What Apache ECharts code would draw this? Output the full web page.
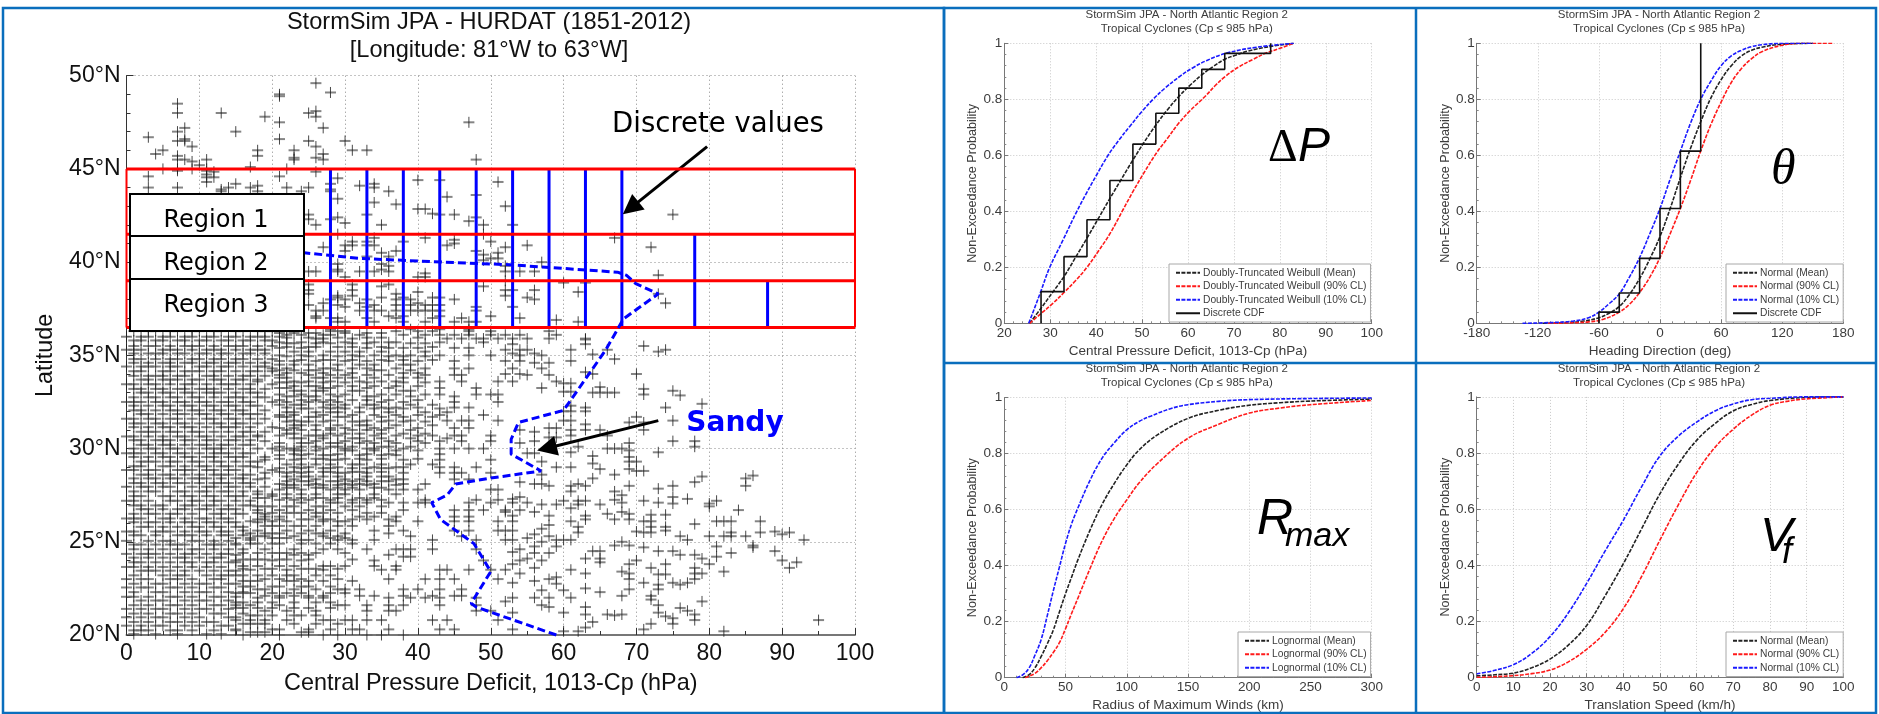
<!DOCTYPE html>
<html><head><meta charset="utf-8">
<style>html,body{margin:0;padding:0;background:#fff}#c{width:1879px;height:714px}</style>
<script src="https://cdn.jsdelivr.net/npm/echarts@6/dist/echarts.min.js"></script>
</head><body><div id="c"></div>
<script>
// ---------- Left panel: storm observations, [lat, deficit, deficit, ...] ----------
const obsNorth = [
[49.6,26],[49.1,28],[49,21],[48.9,21],[48.5,7],[48,7,13,25],[48.1,26],[47.8,19,26],[47.5,21,47],[47.2,8,27],[47,7,15],
[46.7,3],[46.6,8,21],[46.5,7,8,25,30],[46.2,9,26],[46,5,18,23,31,33],[45.8,4,27],[45.7,7,18],[45.6,23,26],[45.5,7,8,11,23,27,48],
[45.4,9],[45.2,10],[45.1,17],[45,5,7,9,11,22],[44.9,7,11],[44.85,12,26],[44.7,11],[44.6,3,21],[44.55,11,12],[44.5,29],[44.4,40,43],
[44.3,11,51],[44.2,15,28,34],[44.1,18,32],[44,3,7,14,17,22,25,34],[43.9,13,28],[43.8,13,18,24,28,36],[43.6,48],[43.5,44],[43.4,29],[43.2,34],[43.1,37],
[43,52],[42.85,40,41],[42.6,42],[42.55,25,33,43,45,75],[42.4,29,48],[42.3,25,28],[42.2,47],[42.1,30],[42,26,35,49,53],
[41.5,29,48,49],[41.3,34,41,67],[41.2,45],[41.1,31,33,38,50],[41,45],[40.9,30,31,33,34,44,55],[40.8,27,52,72],[40.6,30,37,48],[40.5,35,51],[40.4,49],
[40.3,33,36],[40.2,50,51],[40.1,49],[40,57],[39.9,29,35],[39.8,36,52],[39.6,29,35],[39.5,25,26,29,32,34,36,52,54,56],[39.4,41],[39.3,73],[39.2,30,40,41],
[39,38,52],[38.9,60,63],[38.8,25,31,36],[38.7,35,49],[38.5,25,31,52,53,56],[38.4,40,62],[38.3,25,37,73],[38.2,29,31,52],[38.1,29,35,38,42,43,55],
[38,28,30,33,37,39,45,56],[37.8,27,32,40,74],[37.7,25,29,34,37,39,41,42,43],[37.6,30,33,48,53],[37.4,26,27,32,34,35,37,39,40,41,42,43,48],
[37.1,26,36,38,43,50],[37,26,28,29,33,37,42,46,54],[36.9,59],[36.8,29,30,34,38,41,45,47,48,62]
];
const obsMid = [
[36.4,28,39,43,47],[36.3,28,29,30,37,40,42,47,50,58],[36.1,22,24,27,28,32,38,41,43,45,47,50,52,54,59],[35.9,26,27,31,44,46,48,49,51,53,55,58,63],
[35.85,63],[35.7,21,24,27,30,34,36,37,43,49],[35.6,53,63],[35.5,71],[35.4,21,24,33,36,38,40,45,47],[35.3,52,54,55,61,66,74],[35.2,73],[35.1,53,56],
[35,21,24,27,31,34,37,39,43,47,50,54,57],[35.05,64],[34.8,67],[34.7,21,23,26,30,33,36,40,45,52,54,61],[34.6,56,58],[34.3,20,22,27,28,31,33,37,41,45,47,53,57],
[34.1,63],[34,52,54,64,70],[33.95,21,25,28,30,33,36,41,45,46,55,58],[33.6,18,23,25,28,32,35,37,43,46,51,53,59],[33.5,60,61],[33.3,65],[33.25,21,22,27,28,33,36,43,48,57],
[33.2,71],[33.1,75],[33.05,60,61],[33,64,65,66,67],[32.9,21,24,28,30,35,37,41,43,48,50,51,71],[32.85,76],[32.5,22,25,27,29,35,38,45,51],[32.4,79],[32.3,61],[32.2,22,27,29,32,35,37,40,45,47,63,74],
[32,60,61,63],[31.8,21,23,27,31,34,37,40,43,49],[31.7,70],[31.5,23,28,33,36,39,44,46,47,51,60,61,75],[31.4,69,71],[31.3,63],[31.1,21,23,28,30,34,36,40,45,47,58,59],
[31,54,61,63,65,71],[30.9,56],[30.7,18,21,25,26,27,29,34,37,40,42,45,46,50,61,66],[30.6,58,59],[30.4,19,26,30,33,36,40,43,46,50,56,75,78],[30.3,54,69],[30.1,62,78],
[30,22,23,27,30,33,34,38,43,45,47,49,66,67,68],[29.9,69],[29.8,61,73],[29.75,55,56],[29.7,23,25,29,33,36,43],[29.6,64],[29.55,69],[29.4,19,23,28,29,33,38,43,50],
[29.3,57,69,70],[29.2,64],[29,18,23,25,29,34,37,38,43,45,48,59,61],[28.9,65,69],[28.8,70,71],[28.7,19,22,24,29,30,33,38,43,45,46,50],[28.6,57,67],[28.55,86],
[28.5,79],[28.4,64,85],[28.35,18,23,26,30,32,37,38,45,47],[28.2,54,78],[28.1,21,26,30,32,34,38,41,56,57,62],[28,58,61,63,69,75,85]
];
const obsSouth = [
[27.85,73],[27.8,21,24,28,30,32,36,38,40,50,51],[27.7,61,67],[27.5,68],[27.4,54,75],[27.3,53,77],[27.25,21,23,25,28,31,33,35,41,48,51,67],[27.2,60,62,63,71,81],[27.1,24,28,29,31,33,36,38,40,41,47,50,53,55,68,73],
[27.05,75,80],[27,57,59,62,65],[26.9,80],[26.8,61],[26.7,18,21,25,28,31,38,45,47,49,52,54,84],[26.6,52,56,68],[26.5,66,69],[26.45,72,74],[26.4,53,58,63],[26.35,19,21,26,32,34,37,45,47],[26.2,67,69,63],
[26.1,17,20,22,27,29,30,37,40,45,47,51,53,61,71,72,81,82,83,87],[25.95,78],[25.9,58],[25.8,62,72,74],[25.7,57],[25.6,16,18,22,25,28,34,38,45,47,51,52,53,74],[25.55,70,89],[25.5,62,71,72,83,87,91],[25.4,56,90],
[25.3,18,19,23,27,29,39,46,58,76,80,82,83,85],[25.2,55],[25.1,17,24,25,29,31,34,42,48,52,53,59,60,61,77,93],[25,57,68],[24.8,67,69,86],[24.75,56,59,81],[24.7,71,86],[24.6,16,19,23,27,29,33,37,38,39,42,48,54],[24.5,64,65,73,75,89],
[24.45,53],[24.4,56,58,83],[24.3,76,78,15,23,25,36],[24.2,38,39,81],[24.1,55,63,65,79],[24,15,20,24,34,49,54,57,70,90],[23.9,65,92],[23.8,53,69,74,80],[23.7,16,18,21,23,27,28,30,34,37],[23.6,56,72,78,91],[23.5,17,22,27,35,37,43,44,47,50,52,61],
[23.4,68,82],[23.3,63,54,69,78,79],[23.25,73,74],[23.1,59],[23,19,21,24,29,36,41,43,45,51,58,69,78],[22.9,56],[22.8,53,71,75,77],[22.75,59],[22.7,73,76],[22.5,63],[22.45,18,19,23,26,29,30,32,38,40,43,46,69,73],[22.4,57,60],[22.3,65],
[22.1,19,21,23,25,27,32,34,38,42,45,46,68,72],[22,18,21,25,27,36,39,41,43,48,53,56,58,61],[21.9,72],[21.8,52,79],[21.6,17,21,29,30,33,36,38,43,48,57,73],[21.5,58,63],[21.45,76],[21.3,19,22,26,33,36,37,48,50,77],[21.2,53,60,73],[21.1,63,66,68,78],
[21.05,67],[21,74],[20.9,75],[20.8,15,17,19,22,27,28,30,31,33,35,42,44,51,78,95],[20.7,64],[20.6,72,75],[20.4,63],[20.3,15,20,21,25,28,31,32,36,43,45,53,71],[20.2,60,62,82],[20,16,21,27,29,33,35,38]
];
const obsDense = [
[36.3,1,3,4,6,7,9,10,12,13,15,16,18,19,20],[36,0,2,3,5,6,8,9,11,12,14,15,17,18,19,21],[35.8,1,2,4,5,7,8,10,11,13,14,16,17,19,20],[35.5,1,3,4,6,8,9,10,12,14,15,16,18,20],
[35.3,0,1,2,5,6,7,9,11,12,13,15,17,18,19],[35.1,1,3,4,5,7,8,10,11,13,14,16,17,19],[34.8,1,2,4,6,7,9,10,12,13,15,16,18,20],[34.6,1,3,5,6,8,9,11,12,14,15,17,19],
[34.4,0,2,3,4,6,7,10,11,13,14,16,18,19],[34.15,1,2,5,6,8,9,10,12,13,15,17,18,20],[33.9,1,3,4,5,7,8,11,12,14,16,17,19],[33.7,2,3,5,6,7,9,10,12,13,15,16,18],
[33.45,0,1,3,4,6,8,9,11,13,14,15,17,20],[33.2,1,2,4,5,7,8,10,11,12,14,16,17,19],[33,2,3,5,6,8,9,11,12,13,15,17,18],[32.75,1,3,4,6,7,9,10,12,14,15,16,18,19],
[32.5,0,1,2,4,5,7,8,10,11,13,14,16,17,20],[32.3,1,3,5,6,8,9,11,12,14,15,17,18],[32.05,1,2,4,6,7,9,10,12,13,15,16,19],[31.85,2,3,5,7,8,10,11,13,14,16,17,18],
[31.6,0,1,3,4,6,7,9,11,12,14,15,17,19],[31.35,1,2,4,5,7,8,10,12,13,15,16,18],[31.15,1,3,5,6,8,9,11,13,14,15,17,20],[30.9,2,3,4,6,7,9,10,12,14,16,17,19],
[30.65,0,1,3,5,7,8,10,11,13,15,16,18],[30.45,1,2,4,5,6,8,9,11,12,14,15,17],[30.2,2,3,5,6,8,10,11,13,14,16,17],[30,1,3,4,6,7,9,11,12,13,15,18,20],
[29.75,0,1,2,4,5,7,8,10,12,13,14,16,17],[29.55,1,3,5,6,8,9,11,12,14,15,16,19],[29.3,2,3,4,6,7,9,10,12,13,15,17,18],[29.05,1,2,5,6,8,10,11,13,14,16,17],
[28.85,0,1,3,4,7,8,9,11,12,14,15,20],[28.6,2,3,5,6,8,10,12,13,14,16,17],[28.4,1,3,4,6,7,9,10,11,13,15,16,19],[28.15,1,2,4,5,7,8,10,12,13,14,16,17],
[27.95,0,2,3,5,6,9,11,12,14,15,17,19],[27.7,1,3,4,7,8,10,11,13,14,16,18],[27.45,1,2,5,6,8,9,11,12,14,15,16,20],[27.2,0,1,3,6,7,9,10,12,13,15,17],
[26.95,1,2,4,5,8,9,11,12,14,16,17],[26.75,2,3,5,7,8,10,11,13,14,15],[26.5,1,3,4,6,7,9,12,13,15,16,19],[26.25,0,1,2,5,6,8,10,11,13,14],
[26.05,1,3,4,6,8,9,11,12,14,15,18],[25.8,2,3,5,7,9,10,12,13,15,16],[25.55,0,1,4,5,6,8,10,11,13,14],[25.35,1,2,4,7,8,9,11,13,14,16],
[25.05,0,3,5,6,9,10,12,14],[24.85,1,2,4,6,7,8,11,12,13,15],[24.6,1,3,5,7,9,10,12,14],[24.35,0,2,3,4,6,8,9,11,13,14],
[24.15,1,3,5,7,8,10,12,13],[23.9,1,2,4,6,8,9,11,12,14,15],[23.65,0,1,3,5,7,9,11,13],[23.45,2,3,4,6,8,10,12,14,15],
[23.2,1,5,7,8,11,13,14],[23,0,2,3,6,7,9,12,13],[22.75,1,4,5,8,10,11,14,15],[22.55,0,2,3,6,7,9,12,13],
[22.3,1,4,5,8,10,11,14,16],[22.05,0,1,3,6,7,9,12,13,15],[21.85,2,4,5,8,10,11,14],[21.6,1,3,6,7,9,12,13,15],
[21.4,0,2,4,5,8,10,11,14],[21.15,1,3,6,7,9,12,13,16],[20.95,0,2,4,5,8,10,14,15],[20.7,1,3,6,7,9,11,12],
[20.5,0,2,4,5,8,10,13,14],[20.25,1,2,3,6,7,9,12,15],[20.05,1,4,7,11,13]
];
const obsShoulder = [
[36.2,21,23,25,26,30,33,35],[35.95,22,25,29,33,35,40],[35.65,22,23,26,28,31,33,39,41],[35.45,22,25,26,29,31,35,42],[35.2,23,25,28,30,32,35,41],
[34.95,22,25,29,32,36,38,41],[34.75,24,27,28,31,35,38,42],[34.5,21,23,25,29,32,34,38,39],[34.2,21,23,25,26,29,34,35,39],[34.05,22,24,27,31,38,40],
[33.8,21,22,26,27,29,31,34,38,40],[33.55,21,22,24,27,30,33,38,41],[33.35,23,25,26,29,31,34,37,40],[33.1,23,24,26,27,31,32,38,39],[32.8,22,23,25,26,29,33,34,39,45],
[32.6,21,24,26,28,31,33,36,40],[32.35,21,23,24,28,30,33,34,39,42],[32.15,24,25,28,30,34,36,38,43],[31.95,22,23,26,28,29,32,36,41,44],[31.7,21,22,25,26,29,30,35,38,42],
[31.45,22,24,25,27,31,32,35,38,41],[31.25,23,24,26,29,32,33,37,42],[31,22,24,26,28,31,33,35,39],[30.8,22,23,28,30,32,35,38,41],[30.55,23,24,27,31,32,35,39,44],
[30.3,21,24,25,28,29,32,34,37,41],[30.1,21,24,26,28,29,31,35,36,39],[29.9,21,23,24,26,30,31,34,37,40],[29.65,21,24,27,28,32,35,37],[29.45,21,24,26,27,30,32,35,40],
[29.15,22,24,26,28,31,32,35,39,42],[28.95,21,24,27,28,31,33,35,36],[28.75,21,23,25,27,28,31,32,35],[28.5,22,24,25,27,29,33,35,36],[28.25,22,24,25,28,29,31,33,35,36],
[28.05,22,23,25,27,29,31,33,37],[27.9,22,23,26,27,29,31,34,35],[27.55,18,20,22,24,26,29,30,34,37],[27.35,18,19,22,24,26,27,29,32,34],[26.9,18,19,20,22,23,26,27,30,32,35],
[26.55,18,20,22,23,24,26,27,29,33,35],[26.2,18,19,21,24,25,27,28,31,33,36],[25.85,19,20,21,23,24,26,29,31,36],[25.45,17,19,20,21,24,26,27,30,36],[25.2,15,17,20,21,22,28,30],
[24.9,15,17,18,20,21,24,26,28,31],[24.4,16,18,20,21,22,24,26,30],[24.05,16,17,18,19,21,22,25,31],[23.55,16,19,20,24,25,26,29],[23.2,15,16,18,20,22,23,26,28],
[22.9,16,17,18,22,23,25,27,31],[22.6,16,17,20,21,24,25,28],[22.25,15,16,17,20,22,24,28,30],[21.75,15,16,18,20,23,26,28],[21.45,15,16,18,20,23,25,28],
[21.05,17,18,20,23,24,26],[20.6,16,17,18,19,23,26,29],[20.15,17,18,19,24,25]
];
const stormRows = [...obsNorth, ...obsMid, ...obsSouth, ...obsDense, ...obsShoulder];

const sandyTrack = [[59,20],[48,21.5],[47.3,21.7],[50,23.4],[47.7,24.9],[43.1,26.2],[41.9,27.1],[44,27.5],[45.2,28.1],[49.7,28.4],[56.9,28.8],[52.8,29.7],[52.8,30.5],[53.8,31.4],[60,32.05],[65.8,35.3],[68.2,36.95],[73,38.3],[69.9,38.85],[68.6,39.3],[67.4,39.46],[52.6,39.86],[43.5,40],[32,40.2],[24.4,40.5],[18,40.7]];
const regionLats = [45,41.5,39,36.5];
const discreteDeficits = [28,33,38,43,48,53,58,63,68,78,88];
const discreteTops = [45,45,45,45,45,45,45,45,45,41.5,39];
const arrowDiscrete = [[79.7,46.2],[69.2,42.9]];
const arrowSandy = [[73,31.5],[57.7,30.02]];

// ---------- CDF panels ----------
const dpMean = [[25.5,0],[28,.054],[30.5,.11],[33,.167],[35.5,.235],[38,.304],[40.5,.375],[43,.446],[45.5,.515],[48,.583],[50.5,.648],[53,.708],[55.5,.762],[58,.81],[60.5,.851],[63,.887],[65.5,.917],[68,.943],[70.5,.958],[73,.972],[78,.989],[83,1]];
const dp90 = [[25.5,0],[28,.035],[30.5,.07],[33,.11],[35.5,.152],[38,.2],[40.5,.258],[43,.32],[46,.41],[48,.47],[50.5,.54],[53.2,.61],[55.5,.66],[58,.715],[60.5,.76],[63.7,.81],[66,.85],[68,.88],[71,.915],[74.2,.943],[77,.965],[80,.982],[83,1]];
const dp10 = [[25.3,0],[25.6,.012],[27.8,.107],[29.9,.2],[32.8,.298],[35.8,.4],[37.9,.465],[40,.527],[42.6,.6],[45,.655],[47.4,.705],[50,.757],[52.4,.8],[55,.84],[58.3,.883],[61,.912],[64,.938],[68.4,.965],[75,.986],[83,1]];
const dpStep = [[28,0],[28,.113],[33,.113],[33,.238],[38,.238],[38,.37],[43,.37],[43,.51],[48,.51],[48,.64],[53,.64],[53,.75],[58,.75],[58,.84],[63,.84],[63,.907],[68,.907],[68,.964],[78,.964],[78,1]];
const thMean = [[-115,0],[-90,.003],[-75,.008],[-60,.02],[-50,.036],[-40,.06],[-30,.103],[-20,.16],[-10,.23],[0,.31],[10,.41],[20,.52],[30,.625],[40,.72],[50,.805],[60,.87],[70,.92],[80,.955],[90,.975],[100,.986],[120,.997],[150,1]];
const th90 = [[-110,0],[-85,.002],[-70,.005],[-55,.015],[-40,.04],[-30,.068],[-20,.11],[-10,.165],[0,.235],[10,.32],[20,.41],[30,.51],[40,.615],[50,.71],[60,.79],[70,.86],[80,.91],[90,.945],[100,.97],[120,.993],[140,1],[170,1]];
const th10 = [[-135,0],[-105,.003],[-85,.008],[-70,.02],[-60,.04],[-50,.07],[-40,.105],[-30,.165],[-20,.235],[-10,.32],[0,.41],[10,.515],[20,.615],[30,.715],[40,.8],[50,.865],[60,.92],[70,.955],[80,.975],[90,.988],[100,.995],[120,1],[150,1]];
const thStep = [[-60,0],[-60,.04],[-40,.04],[-40,.108],[-20,.108],[-20,.232],[0,.232],[0,.41],[20,.41],[20,.615],[40,.615],[40,1]];
const rMean = [[15,0],[20,.01],[25,.035],[30,.075],[35,.12],[40,.17],[45,.235],[50,.3],[55,.36],[60,.42],[70,.527],[80,.62],[90,.695],[100,.76],[110,.813],[125,.867],[150,.926],[175,.955],[200,.973],[225,.982],[250,.988],[300,.995]];
const r90 = [[17,0],[20,.005],[25,.015],[30,.035],[35,.06],[40,.09],[45,.125],[50,.175],[55,.23],[60,.283],[70,.39],[80,.49],[90,.57],[100,.635],[110,.695],[125,.765],[150,.855],[175,.905],[200,.945],[225,.963],[250,.975],[300,.99]];
const r10 = [[10,0],[15,.01],[20,.033],[25,.08],[30,.135],[35,.22],[40,.31],[45,.395],[50,.48],[55,.55],[60,.605],[70,.705],[80,.785],[90,.84],[100,.885],[110,.915],[120,.935],[135,.96],[150,.975],[175,.987],[200,.993],[250,.997],[300,.999]];
const vMean = [[0,.005],[5,.009],[10,.015],[15,.034],[20,.065],[25,.115],[30,.185],[35,.29],[40,.405],[45,.53],[50,.655],[55,.76],[60,.845],[65,.905],[70,.95],[75,.973],[80,.987],[90,.998],[100,1]];
const v90 = [[0,0],[5,.002],[10,.006],[15,.013],[20,.026],[25,.055],[30,.1],[35,.16],[40,.245],[45,.36],[50,.49],[55,.615],[60,.73],[65,.82],[70,.885],[75,.935],[80,.97],[85,.985],[90,.993],[100,1]];
const v10 = [[0,.012],[5,.025],[10,.045],[15,.085],[20,.145],[25,.23],[30,.335],[35,.45],[40,.56],[45,.68],[50,.79],[55,.86],[60,.91],[65,.95],[70,.975],[75,.99],[80,.995],[90,1],[100,1]];

const panelTitle = 'StormSim JPA - North Atlantic Region 2\nTropical Cyclones (Cp ≤ 985 hPa)';
const probLabel = 'Non-Exceedance Probability';
const FONT = '"Liberation Sans", Arial, sans-serif';
const TXT = '#3c3c3c';

const stormPoints = [];
stormRows.forEach(r => r.slice(1).forEach(x => stormPoints.push([x, r[0]])));

const chart = echarts.init(document.getElementById('c'), null, {renderer:'canvas'});
const grids = [
 {left:126.5, top:75.7, width:728.5, height:559.3},
 {left:1004.3, top:43.3, width:367.4, height:280},
 {left:1476.7, top:43.3, width:366.6, height:280},
 {left:1004.3, top:397.7, width:367.4, height:280},
 {left:1476.7, top:396.9, width:366.6, height:280.4}
];
function panelX(i,name,min,max,interval){return {type:'value',gridIndex:i,min,max,interval,name,nameLocation:'middle',nameGap:21,
  nameTextStyle:{fontFamily:FONT,fontSize:13.5,color:TXT},
  axisLine:{show:true,onZero:false,lineStyle:{color:'#777',width:1}},axisTick:{show:true,inside:true,length:4,lineStyle:{color:'#777'}},
  minorTick:{show:true,splitNumber:5,length:2,lineStyle:{color:'#888'}},
  axisLabel:{fontFamily:FONT,fontSize:13.5,color:TXT,margin:3,hideOverlap:false,showMinLabel:true,showMaxLabel:true},
  splitLine:{show:true,lineStyle:{color:'#c8c8c8',type:[1,2],width:1}}};}
function panelY(i){return {type:'value',gridIndex:i,min:0,max:1,interval:.2,name:probLabel,nameLocation:'middle',nameGap:25,nameRotate:90,
  nameTextStyle:{fontFamily:FONT,fontSize:12.6,color:TXT},
  axisLine:{show:true,onZero:false,lineStyle:{color:'#777',width:1}},axisTick:{show:true,inside:true,length:4,lineStyle:{color:'#777'}},
  minorTick:{show:true,splitNumber:5,length:2,lineStyle:{color:'#888'}},
  axisLabel:{fontFamily:FONT,fontSize:13.5,color:TXT,margin:2,hideOverlap:false,showMinLabel:true,showMaxLabel:true},
  splitLine:{show:true,lineStyle:{color:'#c8c8c8',type:[1,2],width:1}}};}
const xAxes = [
 {type:'value',gridIndex:0,min:0,max:100,interval:10,name:'Central Pressure Deficit, 1013-Cp (hPa)',nameLocation:'middle',nameGap:37,
  nameTextStyle:{fontFamily:FONT,fontSize:23.4,color:'#111'},
  axisLine:{show:true,onZero:false,lineStyle:{color:'#777',width:2}},axisTick:{show:true,inside:true,length:7,lineStyle:{color:'#333'}},
  minorTick:{show:true,splitNumber:2,length:4,lineStyle:{color:'#333'}},
  axisLabel:{fontFamily:FONT,fontSize:23,color:'#111',margin:7,hideOverlap:false},
  splitLine:{show:true,lineStyle:{color:'#888',type:[1,3],width:1}}},
 panelX(1,'Central Pressure Deficit, 1013-Cp (hPa)',20,100,10),
 panelX(2,'Heading Direction (deg)',-180,180,60),
 panelX(3,'Radius of Maximum Winds (km)',0,300,50),
 panelX(4,'Translation Speed (km/h)',0,100,10)
];
const yAxes = [
 {type:'value',gridIndex:0,min:20,max:50,interval:5,name:'Latitude',nameLocation:'middle',nameGap:69,nameRotate:90,
  nameTextStyle:{fontFamily:FONT,fontSize:23.4,color:'#111'},
  axisLine:{show:true,onZero:false,lineStyle:{color:'#333',width:1}},axisTick:{show:true,inside:true,length:7,lineStyle:{color:'#333'}},
  minorTick:{show:true,splitNumber:5,length:4,lineStyle:{color:'#333'}},
  axisLabel:{fontFamily:FONT,fontSize:23,color:'#111',margin:6,formatter:'{value}°N',hideOverlap:false},
  splitLine:{show:true,lineStyle:{color:'#888',type:[1,3],width:1}}},
 panelY(1),panelY(2),panelY(3),panelY(4)
];

const series = [];
series.push({name:'storm-h',type:'scatter',xAxisIndex:0,yAxisIndex:0,data:stormPoints,silent:true,clip:false,z:2,progressive:0,
  symbol:'path://M5 0M0 5H10M5 10',symbolSize:11,itemStyle:{color:'transparent',borderColor:'#666',borderWidth:2}});
series.push({name:'storm-v',type:'scatter',xAxisIndex:0,yAxisIndex:0,data:stormPoints,silent:true,clip:false,z:2,progressive:0,
  symbol:'path://M0 5M5 0V10M10 5',symbolSize:11,itemStyle:{color:'transparent',borderColor:'#1c1c1c',borderWidth:1}});
discreteDeficits.forEach((d,i)=>series.push({name:'discrete '+d,type:'line',xAxisIndex:0,yAxisIndex:0,showSymbol:false,silent:true,z:4,
  data:[[d,36.5],[d,discreteTops[i]]],lineStyle:{color:'#0000ff',width:3}}));
regionLats.forEach(l=>series.push({name:'band '+l,type:'line',xAxisIndex:0,yAxisIndex:0,showSymbol:false,silent:true,z:5,
  data:[[0,l],[100,l]],lineStyle:{color:'#ff0000',width:3}}));
[0,100].forEach(x=>series.push({name:'edge '+x,type:'line',xAxisIndex:0,yAxisIndex:0,showSymbol:false,silent:true,z:5,
  data:[[x,36.5],[x,45]],lineStyle:{color:'#ff0000',width:2}}));
series.push({name:'Sandy',type:'line',xAxisIndex:0,yAxisIndex:0,data:sandyTrack,showSymbol:false,silent:true,z:6,clip:false,
  lineStyle:{color:'#0000ff',width:3,type:[8,4]},
  markLine:{silent:true,animation:false,symbol:['none','triangle'],symbolSize:20,label:{show:false},
    lineStyle:{color:'#000',width:3,type:'solid'},
    data:[[{coord:arrowDiscrete[0]},{coord:arrowDiscrete[1]}],[{coord:arrowSandy[0]},{coord:arrowSandy[1]}]]}});

function curve(i,name,data,color){series.push({name,type:'line',xAxisIndex:i,yAxisIndex:i,data,showSymbol:false,symbol:'none',silent:true,smooth:.4,z:3,
  lineStyle:{color,width:1.6,type:[4,1.4]},itemStyle:{color}});}
function step(i,name,data){series.push({name,type:'line',xAxisIndex:i,yAxisIndex:i,data,showSymbol:false,symbol:'none',silent:true,z:4,
  lineStyle:{color:'#111',width:1.6},itemStyle:{color:'#111'}});}
const BK='#222',RD='#ff1a1a',BL='#1a1aff';
step(1,'Discrete CDF',dpStep);
curve(1,'Doubly-Truncated Weibull (Mean)',dpMean,BK);
curve(1,'Doubly-Truncated Weibull (90% CL)',dp90,RD);
curve(1,'Doubly-Truncated Weibull (10% CL)',dp10,BL);
step(2,'Discrete CDF',thStep);
curve(2,'Normal (Mean)',thMean,BK);
curve(2,'Normal (90% CL)',th90,RD);
curve(2,'Normal (10% CL)',th10,BL);
curve(3,'Lognormal (Mean)',rMean,BK);
curve(3,'Lognormal (90% CL)',r90,RD);
curve(3,'Lognormal (10% CL)',r10,BL);
curve(4,'Normal (Mean)',vMean,BK);
curve(4,'Normal (90% CL)',v90,RD);
curve(4,'Normal (10% CL)',v10,BL);

function legend(left,top,names,pad){return {show:true,orient:'vertical',left,top,data:names,selectedMode:false,itemWidth:24,itemHeight:13,itemGap:0,
  padding:pad,backgroundColor:'#fff',borderColor:'#a8a8a8',borderWidth:1,z:10,itemStyle:{color:'transparent',opacity:0,borderWidth:0},
  textStyle:{fontFamily:FONT,fontSize:10.25,lineHeight:13.5,color:TXT,padding:[0,0,0,-2]}};}
const title = (text,cx,top,fs,lh,color)=>({text,left:cx,top,textAlign:'center',padding:0,z:5,textStyle:{fontFamily:FONT,fontSize:fs,lineHeight:lh,fontWeight:'normal',color}});
const bigLabel = (text,x,y,font)=>({type:'text',z:30,silent:true,style:{text,x,y,font,fill:'#000',textAlign:'left',textVerticalAlign:'bottom'}});
const regionBox = (y,h)=>({type:'rect',z:25,silent:true,shape:{x:130,y,width:174,height:h},style:{fill:'#fff',stroke:'#000',lineWidth:2}});
const regionText = (text,y)=>({type:'text',z:26,silent:true,style:{text,x:216,y,font:'24px "DejaVu Sans"',fill:'#000',textAlign:'center',textVerticalAlign:'middle'}});

chart.setOption({
 animation:false,backgroundColor:'#fff',
 title:[
  title('StormSim JPA - HURDAT (1851-2012)\n[Longitude: 81°W to 63°W]',489,9,23.6,27.5,'#111'),
  title(panelTitle,1186.7,8,11.5,14,TXT),
  title(panelTitle,1659,8,11.5,14,TXT),
  title(panelTitle,1186.7,362,11.5,14,TXT),
  title(panelTitle,1659,362,11.5,14,TXT)
 ],
 grid:grids,xAxis:xAxes,yAxis:yAxes,series,
 legend:[
  legend(1169,264,['Doubly-Truncated Weibull (Mean)','Doubly-Truncated Weibull (90% CL)','Doubly-Truncated Weibull (10% CL)','Discrete CDF'],[2,4,2,6]),
  legend(1726,264,['Normal (Mean)','Normal (90% CL)','Normal (10% CL)','Discrete CDF'],[2,4,2,6]),
  legend(1238,632,['Lognormal (Mean)','Lognormal (90% CL)','Lognormal (10% CL)'],[2,4,2,6]),
  legend(1726,632,['Normal (Mean)','Normal (90% CL)','Normal (10% CL)'],[2,4,2,6])
 ],
 graphic:[
  {type:'rect',z:40,silent:true,shape:{x:3,y:8,width:941,height:705},style:{fill:'transparent',stroke:'#0a6ebd',lineWidth:2.5}},
  {type:'rect',z:40,silent:true,shape:{x:944,y:8,width:932,height:705},style:{fill:'transparent',stroke:'#0a6ebd',lineWidth:2.5}},
  {type:'line',z:40,silent:true,shape:{x1:1416,y1:8,x2:1416,y2:713},style:{stroke:'#0a6ebd',lineWidth:2.5}},
  {type:'line',z:40,silent:true,shape:{x1:944,y1:363,x2:1876,y2:363},style:{stroke:'#0a6ebd',lineWidth:2.5}},
  regionBox(194,42),regionBox(236,43),regionBox(279,52),
  regionText('Region 1',221),regionText('Region 2',264),regionText('Region 3',306),
  {type:'text',z:30,silent:true,style:{text:'Discrete values',x:718,y:125,font:'27.5px "DejaVu Sans"',fill:'#000',textAlign:'center',textVerticalAlign:'middle'}},
  {type:'text',z:30,silent:true,style:{text:'Sandy',x:735,y:424,font:'bold 28px "DejaVu Sans"',fill:'#0000ff',textAlign:'center',textVerticalAlign:'middle'}},
  bigLabel('Δ',1268,172,'46px "Liberation Serif"'),
  bigLabel('P',1298,172,'italic 48px "Liberation Sans"'),
  bigLabel('θ',1771,196,'italic 50px "Liberation Serif"'),
  bigLabel('R',1257,545,'italic 50px "Liberation Sans"'),
  bigLabel('max',1285,554,'italic 34px "Liberation Sans"'),
  bigLabel('V',1760,562,'italic 49px "Liberation Sans"'),
  bigLabel('f',1782,571,'italic 36px "Liberation Sans"')
 ]
});
</script></body></html>
